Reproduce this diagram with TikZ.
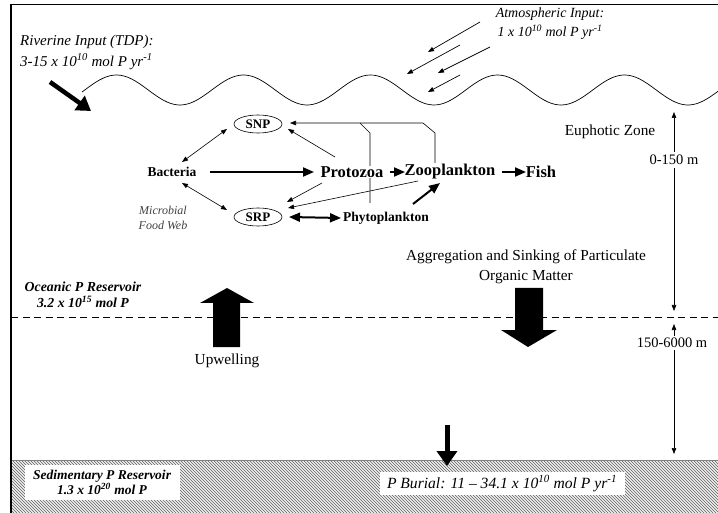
\documentclass[tikz,border=0pt]{standalone}
\usepackage{fontspec}
\setmainfont{Liberation Serif}
\usetikzlibrary{arrows.meta,shapes.geometric,backgrounds,calc}
\begin{document}
\begin{tikzpicture}[x=1pt,y=-1pt,
  thinarr/.style={line width=0.6pt,-{Triangle[length=6pt,width=4.5pt]}},
  thinboth/.style={line width=0.6pt,{Triangle[length=6pt,width=4.5pt]}-{Triangle[length=6pt,width=4.5pt]}},
  thinline/.style={line width=0.6pt},
  thickarr/.style={line width=2pt,-{Triangle[length=11pt,width=9pt]}},
  thickboth/.style={line width=2pt,{Triangle[length=11pt,width=9pt]}-{Triangle[length=11pt,width=9pt]}},
  bigb/.style={font=\fontsize{16.5}{18}\selectfont\bfseries, inner sep=1pt},
  medb/.style={font=\fontsize{13.5}{16}\selectfont\bfseries, inner sep=1pt},
  reg/.style={font=\fontsize{15.3}{20}\selectfont, align=center, inner sep=1pt},
  ital/.style={font=\fontsize{15}{21}\selectfont\itshape},
  bital/.style={font=\fontsize{13.5}{15}\selectfont\bfseries\itshape, align=center},
  pool/.style={ellipse, draw, line width=0.6pt, minimum width=48pt, minimum height=18pt, inner sep=0pt, font=\fontsize{13}{15}\selectfont\bfseries},
  depth/.style={line width=0.6pt,-{Triangle[length=6pt,width=4.5pt]}},
]
\useasboundingbox (0,0) rectangle (718,513);

% sediment hatch
\begin{scope}
  \clip (11,460) rectangle (718,513);
  \fill[gray!12] (11,460) rectangle (718,513);
  \foreach \i in {-60,-57,...,720} \draw[gray!75!black, line width=0.45pt] (\i,460) -- (\i+53,513);
\end{scope}
\draw[gray, line width=0.6pt] (11,460) -- (718,460);

% frame
\draw[line width=1.2pt] (11,513) -- (11,4.5) -- (718,4.5);

% sea surface
\draw[line width=0.7pt] plot[domain=82:718, samples=180, smooth] (\x,{90-15*cos(2.83465*(\x-116.5))});

% dashed boundary
\draw[line width=0.8pt, dash pattern=on 7pt off 4.5pt] (11,317) -- (718,317);

% riverine input
\node[ital, anchor=west, align=left, inner sep=0pt] (riv) at (20,52) {Riverine Input (TDP):\\3-15 x 10\textsuperscript{10} mol P yr\textsuperscript{-1}};
\coordinate (rivS) at (50,82);
\coordinate (rivE) at (91,111);
\draw[line width=4.5pt, -{Triangle[length=14pt,width=17pt]}] (rivS) -- (rivE);

% atmospheric input
\node[font=\fontsize{14}{19}\selectfont\itshape, align=center, inner sep=0pt] (atm) at (550,24) {Atmospheric Input:\\1 x 10\textsuperscript{10} mol P yr\textsuperscript{-1}};
\coordinate (a1s) at (480,22); \coordinate (a1e) at (428,52);
\coordinate (a2s) at (460,45); \coordinate (a2e) at (407,74);
\coordinate (a3s) at (490,47); \coordinate (a3e) at (438,73);
\coordinate (a4s) at (460,75); \coordinate (a4e) at (428,92);
\foreach \k in {1,2,3,4} \draw[thinarr, line width=0.7pt] (a\k s) -- (a\k e);

% food web nodes
\node[pool] (snp) at (258,124) {SNP};
\node[pool] (srp) at (258,217) {SRP};
\node[medb] (bac) at (172,172) {Bacteria};
\node[bigb, fill=white] (pro) at (352,172) {Protozoa};
\node[bigb] (zoo) at (450,172) {Zooplankton};
\node[bigb] (fish) at (541,172) {Fish};
\node[medb] (phy) at (386,218) {Phytoplankton};
\node[font=\fontsize{12}{15}\selectfont\itshape, text=black!75, align=center, inner sep=0pt] (mfw) at (163,217.5) {Microbial\\Food Web};

% food web connectors
\draw[thinboth] ($(bac)+(10,-10)$) -- ($(snp)+(-31,5)$);
\draw[thinboth] ($(bac)+(10,11)$) -- ($(srp)+(-31,-7)$);
\draw[thickarr] ($(bac)+(38,0)$) -- ($(pro)+(-38,0)$);
\draw[thinarr] ($(pro)+(-17,-15)$) -- ($(snp)+(30,5)$);
\draw[thinarr] ($(pro)+(-30,11)$) -- ($(srp)+(29,-15)$);
\draw[thinarr] ($(zoo)+(-32,9)$) -- ($(srp)+(30,-9)$);
\draw[thickarr] ($(pro)+(38,0)$) -- ($(zoo)+(-45,0)$);
\draw[thickarr] ($(zoo)+(52,0)$) -- ($(fish)+(-15,0)$);
\draw[thickarr] ($(phy)+(27,-14)$) -- ($(zoo)+(-10,11)$);
\draw[thickboth] ($(srp)+(31,0)$) -- ($(phy)+(-45,0)$);
\draw[thinarr] ($(zoo)+(-15,-9)$) -- ++(0,-30) -- ++(-12,-10) -- ($(snp)+(32,-1)$);
\begin{pgfonlayer}{background}
  \draw[thinline] ($(phy)+(-16,-15)$) -- ++(0,-70) -- ++(-10,-10);
\end{pgfonlayer}

% zones and depths
\node[reg] (euph) at (610,132) {Euphotic Zone};
\node[reg, font=\fontsize{14.5}{17}\selectfont, inner sep=3pt] (d1) at (674,160) {0-150 m};
\coordinate (wtop) at (674,112);
\coordinate (dl1) at (674,311);
\draw[depth] (d1.north) -- (wtop);
\draw[depth] (d1.south) -- (dl1);
\node[reg, font=\fontsize{14.5}{17}\selectfont, inner sep=2pt] (d2) at (672,343) {150-6000 m};
\coordinate (dl2) at (674,324);
\coordinate (sedtop) at (674,454);
\draw[depth] (d2.north -| dl2) -- (dl2);
\draw[depth] (d2.south -| sedtop) -- (sedtop);

% oceanic reservoir
\node[bital, font=\fontsize{13.8}{16}\selectfont\bfseries\itshape] (oce) at (83,295) {Oceanic P Reservoir\\3.2 x 10\textsuperscript{15} mol P};

% upwelling
\fill (213,347) -- (213,303) -- (200,303) -- (227,288) -- (254,303) -- (240,303) -- (240,347) -- cycle;
\node[reg] (upw) at (227,361) {Upwelling};

% aggregation and sinking
\node[reg] (agg) at (526,267) {Aggregation and Sinking of Particulate\\Organic Matter};
\fill (515,288) -- (515,330) -- (501,330) -- (528,347) -- (557,330) -- (543,330) -- (543,288) -- cycle;

% burial
\node[fill=white, ital, font=\fontsize{15.6}{18}\selectfont\itshape, minimum width=245pt, minimum height=23pt, inner sep=0pt] (bur) at (502,483.5) {P Burial: 11 – 34.1 x 10\textsuperscript{10} mol P yr\textsuperscript{-1}};
\coordinate (burS) at (447,425);
\coordinate (burE) at (447,466);
\draw[line width=5pt, -{Triangle[length=15pt,width=20pt]}] (burS) -- (burE);

% sedimentary reservoir
\node[fill=white, bital, minimum width=155pt, minimum height=35pt, inner sep=0pt] (sed) at (102,482.5) {Sedimentary P Reservoir\\1.3 x 10\textsuperscript{20} mol P};
\end{tikzpicture}
\end{document}
